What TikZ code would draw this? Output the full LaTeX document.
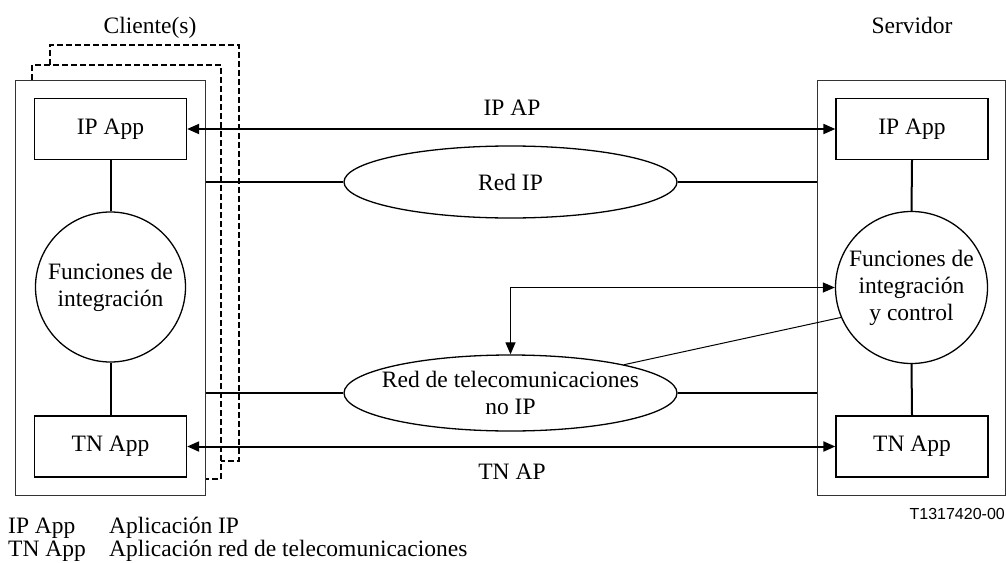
\documentclass[tikz,border=0pt]{standalone}
\usepackage{fontspec}
\setmainfont{Liberation Serif}
\newfontfamily\labsans{Liberation Sans}
\usetikzlibrary{shapes.geometric,arrows.meta}
\tikzset{
  txt/.style={font=\fontsize{23.5}{27}\selectfont, align=center},
  outerbox/.style={draw=black!80, line width=1pt, inner sep=0pt},
  appbox/.style={draw, line width=1.3pt, minimum width=152pt, minimum height=61pt, inner sep=0pt, txt},
  funcircle/.style={draw, circle, line width=1.3pt, inner sep=0pt, txt},
  netell/.style={draw, ellipse, line width=1.3pt, minimum width=333pt, inner sep=0pt},
  thick2/.style={line width=2pt},
  thin1/.style={line width=1pt},
  dblarrow/.style={line width=2pt, {Triangle[length=12pt,width=10pt]}-{Triangle[length=12pt,width=10pt]}},
  ctlarrow/.style={line width=1.2pt, {Triangle[length=12pt,width=10pt]}-{Triangle[length=12pt,width=10pt]}},
  stackdash/.style={line width=1.5pt, dash pattern=on 6pt off 3pt},
  lbl/.style={txt, inner sep=0pt, anchor=base}
}
\begin{document}
\begin{tikzpicture}[x=1pt,y=-1pt]
\useasboundingbox (0,0) rectangle (1006,562);
% stacked client copies
\draw[stackdash] (32,80) -- (32,65) -- (221,65) -- (221,479) -- (205,479);
\draw[stackdash] (50,65) -- (50,45) -- (239,45) -- (239,461) -- (221,461);
% outer boxes
\node[outerbox, minimum width=190pt, minimum height=415pt] (lbox) at (110,287.5) {};
\node[outerbox, minimum width=188pt, minimum height=415pt] (rbox) at (911,287.5) {};
% client contents
\node[appbox] (lip) at (110.5,129) {IP App};
\node[funcircle, minimum size=150pt] (lfun) at (110.5,287) {Funciones de\\integración};
\node[appbox] (ltn) at (110.5,446.5) {TN App};
% server contents
\node[appbox] (rip) at (912,129) {IP App};
\node[funcircle, minimum size=152pt] (rfun) at (911.5,287.5) {Funciones de\\integración\\y control};
\node[appbox] (rtn) at (912,446.5) {TN App};
% networks
\node[netell, minimum height=72pt] (ipnet) at (510.5,182) {};
\node[txt, inner sep=0pt] (ipnettxt) at (ipnet.center) {Red IP};
\node[netell, minimum height=76pt] (tnet) at (510.5,393) {};
\node[txt, inner sep=0pt] (tnettxt) at (tnet.center) {Red de telecomunicaciones\\no IP};
% vertical links
\draw[thick2] (lip.south) -- (lfun.north);
\draw[thick2] (lfun.south) -- (ltn.north);
\draw[thick2] (rip.south) -- (rfun.north);
\draw[thick2] (rfun.south) -- (rtn.north);
% network links
\draw[thick2] (ipnet.west) -- (ipnet.west -| lbox.east);
\draw[thick2] (ipnet.east) -- (ipnet.east -| rbox.west);
\draw[thick2] (tnet.west) -- (tnet.west -| lbox.east);
\draw[thick2] (tnet.east) -- (tnet.east -| rbox.west);
% application protocols
\draw[dblarrow] (lip.east) -- (rip.west);
\draw[dblarrow] (ltn.east) -- (rtn.west);
% control
\draw[ctlarrow] (tnet.north) |- (rfun.west);
\draw[thin1] (tnet.14) -- (rfun.203);
% labels
\node[lbl] (ipap) at (512,115) {IP AP};
\node[lbl] (tnap) at (512,479) {TN AP};
\node[lbl] (cli) at (150,33) {Cliente(s)};
\node[lbl] (srv) at (912,33) {Servidor};
\node[inner sep=0pt, anchor=base west, align=left, font=\fontsize{23.5}{23}\selectfont] (legend) at (8,556.5)
  {\makebox[101pt][l]{IP App}Aplicación IP\\\makebox[101pt][l]{TN App}Aplicación red de telecomunicaciones};
\node[inner sep=0pt, anchor=base east, font=\labsans\fontsize{16}{18}\selectfont] (code) at (1005,519) {T1317420-00};
\end{tikzpicture}
\end{document}
